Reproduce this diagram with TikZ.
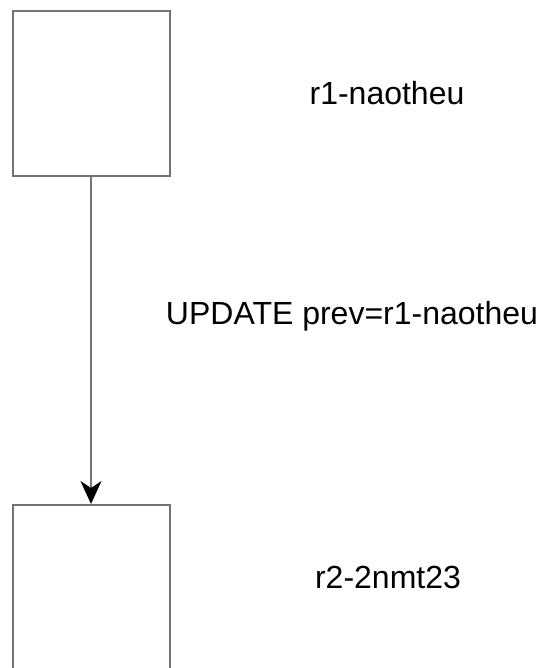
\documentclass[tikz,border=0pt]{standalone}
\usepackage{fontspec}
\setmainfont{Liberation Sans}
\usetikzlibrary{arrows.meta}

\begin{document}
\begin{tikzpicture}[x=1pt, y=-1pt]
  \tikzstyle{rev}=[rectangle, draw=black!55, line width=2pt, fill=white, minimum width=157pt, minimum height=165pt, inner sep=0pt]
  \tikzstyle{lbl}=[inner sep=0pt, font=\fontsize{32}{38}\selectfont]
  \useasboundingbox (0,0) rectangle (555,668);
  \node[rev] (r1) at (91,94) {};
  \node[rev] (r2) at (91,587.5) {};
  \node[lbl] (r1name) at (387,93) {r1-naotheu};
  \node[lbl] (upd) at (352,316) {UPDATE prev=r1-naotheu};
  \node[lbl] (r2name) at (388,577) {r2-2nmt23};
  \draw[draw=black!55, line width=2pt, -{Stealth[length=23pt, width=21pt, inset=7pt, color=black]}] (r1) -- (r2);
\end{tikzpicture}
\end{document}
